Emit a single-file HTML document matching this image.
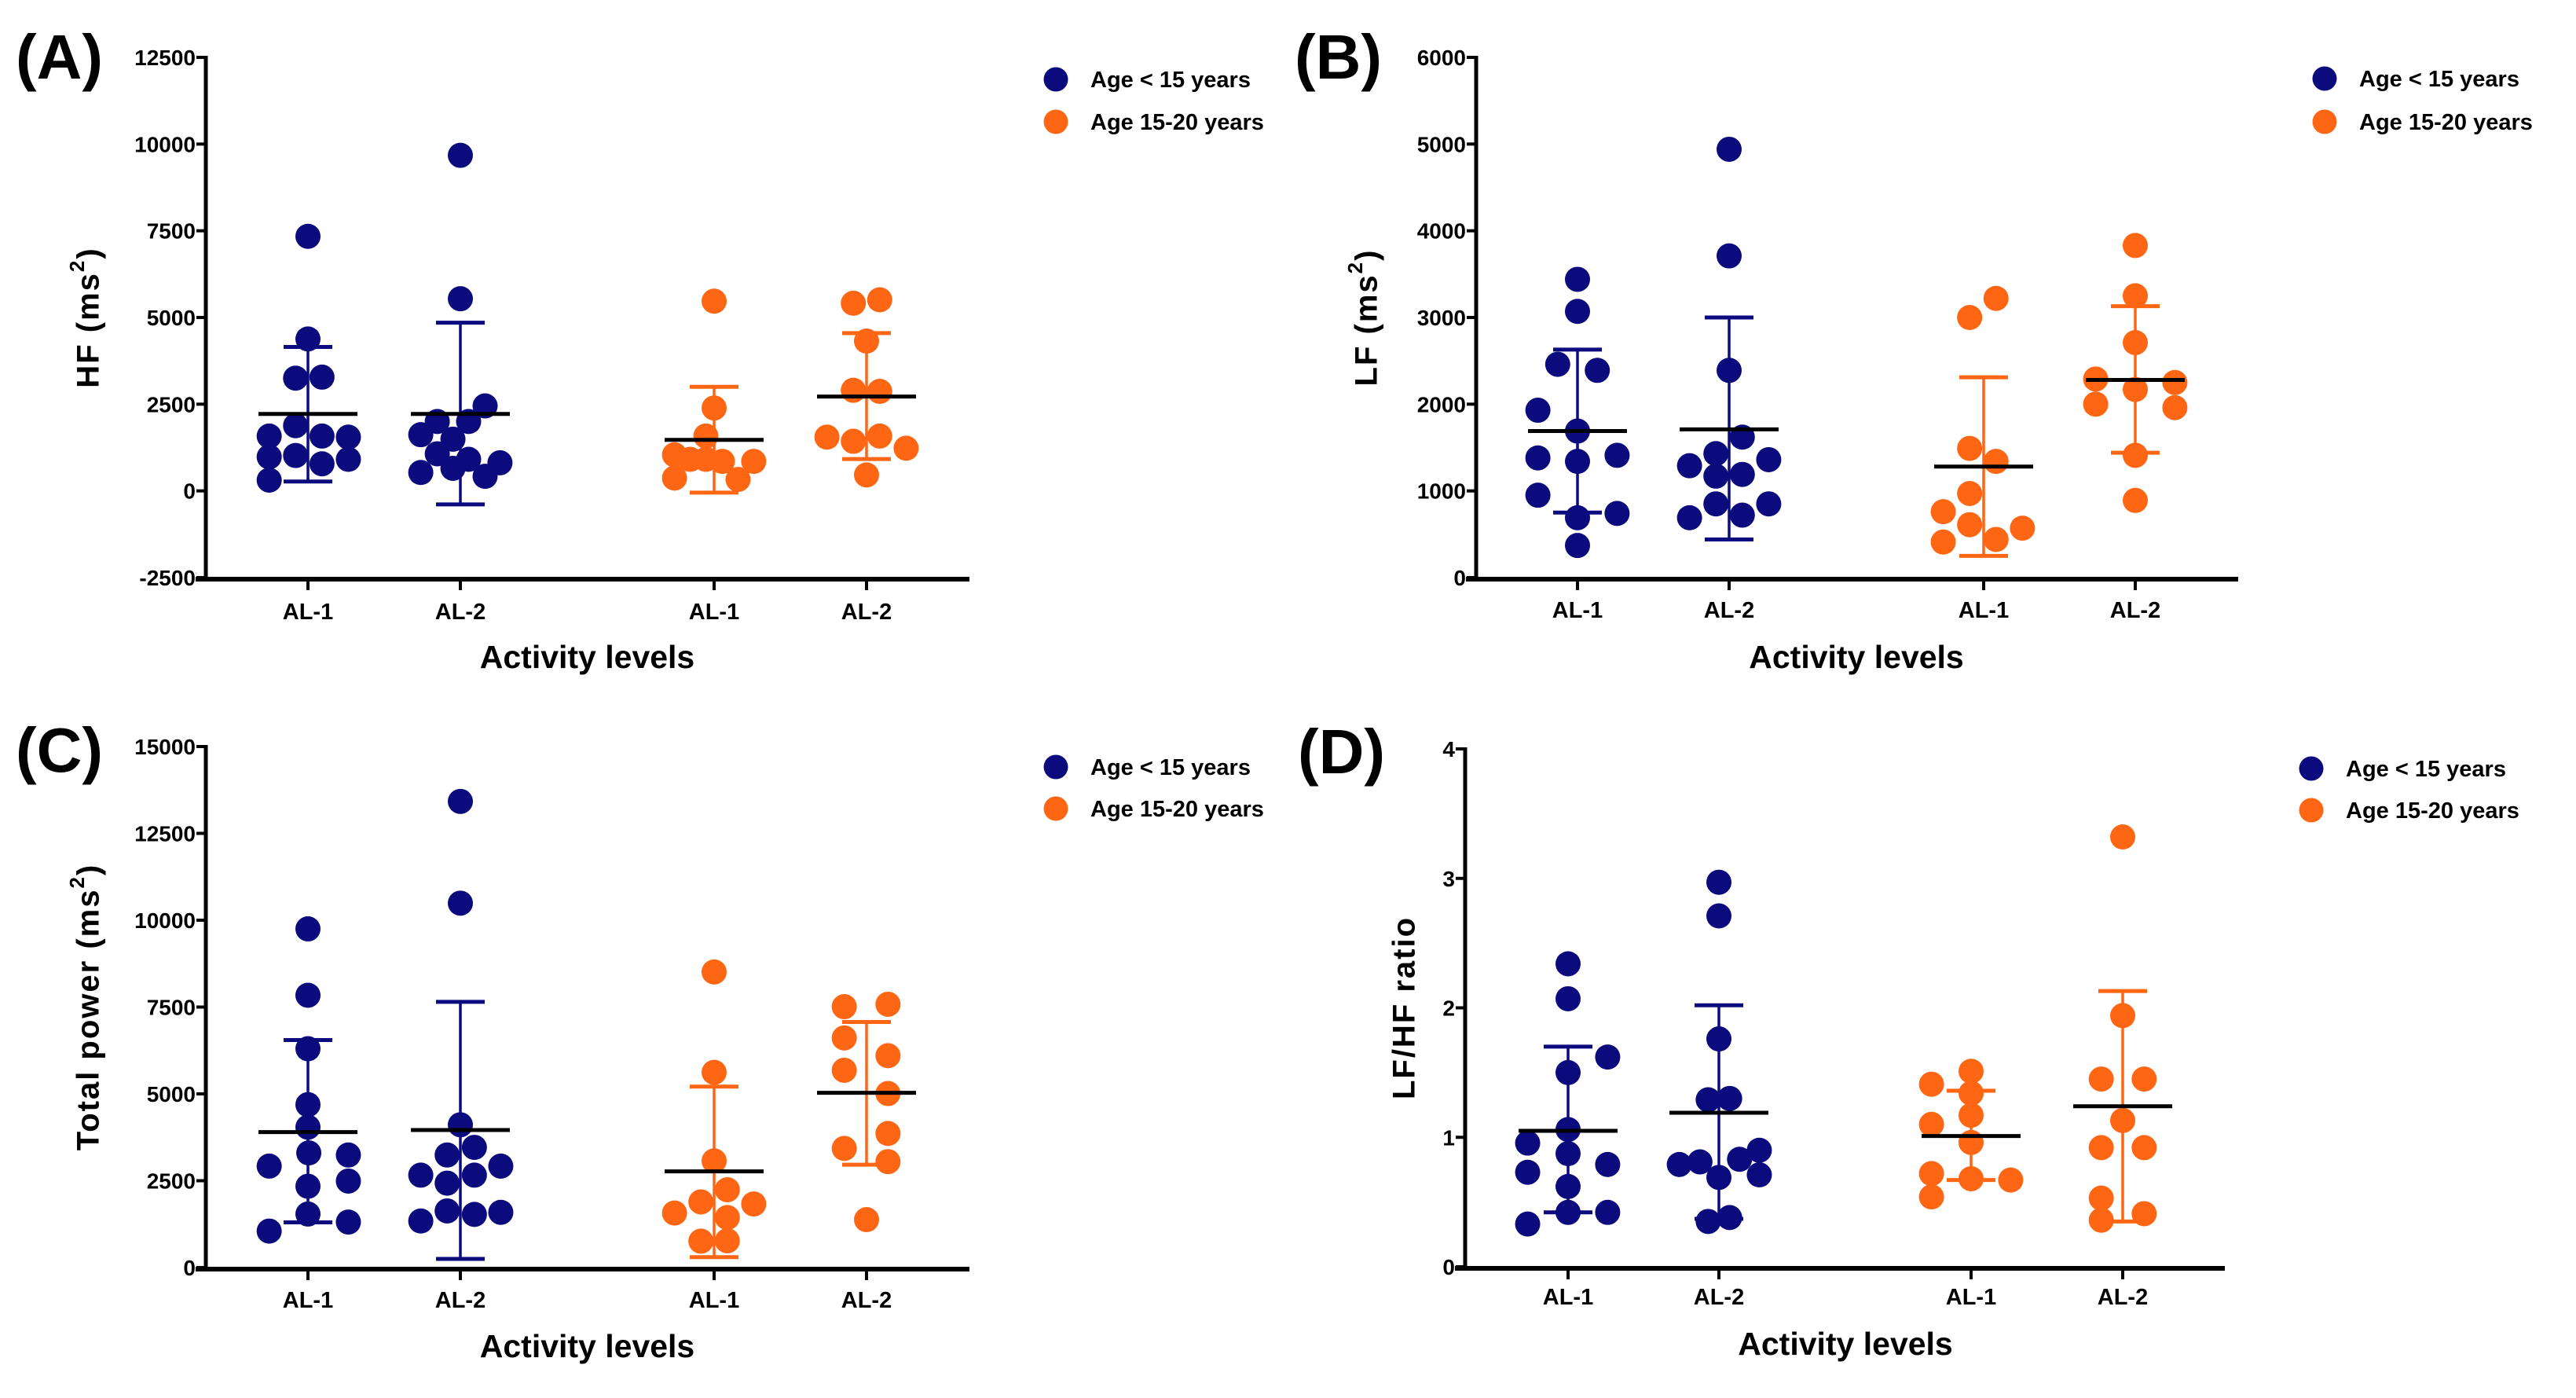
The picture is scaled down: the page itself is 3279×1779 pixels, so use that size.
<!DOCTYPE html>
<html><head><meta charset="utf-8"><title>HRV by activity level</title>
<style>
html,body{margin:0;padding:0;background:#fff;}
svg{display:block;font-family:"Liberation Sans",Arial,sans-serif;}
</style></head>
<body>
<svg id="fig" width="3279" height="1779" viewBox="0 0 3279 1779" xmlns="http://www.w3.org/2000/svg"></svg>
<script>
// ---------- data ----------
const categories = ["AL-1","AL-2","AL-1","AL-2"];
const seriesNames = ["Age < 15 years","Age 15-20 years"];
// Panel A: HF
const hfYoungAL1 = [7340,4380,3250,3280,1880,1580,1580,1550,980,1020,780,910,310];
const hfYoungAL2 = [9675,5540,2450,2000,2000,1620,1490,1070,910,810,650,530,420];
const hfOldAL1 = [5470,2390,1580,1040,910,850,850,370,330,910];
const hfOldAL2 = [5410,5510,4320,2900,2870,1550,1430,1580,1230,460];
const hfMeans = [2220,2220,1470,2720];
const hfSdHigh = [4150,4850,3000,4550];
const hfSdLow = [270,-390,-50,920];
const hfTicks = [-2500,0,2500,5000,7500,10000,12500];
// Panel B: LF
const lfYoungAL1 = [3440,3070,2460,2390,1930,1690,1380,1340,1410,950,690,740,370];
const lfYoungAL2 = [4940,3710,2390,1620,1430,1360,1290,1170,1190,850,850,720,690];
const lfOldAL1 = [3220,3000,1490,1340,970,760,610,570,410,440];
const lfOldAL2 = [3830,3250,2710,2290,2250,2170,2000,1960,1410,890];
const lfMeans = [1690,1710,1280,2280];
const lfSdHigh = [2630,3000,2310,3130];
const lfSdLow = [750,440,250,1440];
const lfTicks = [0,1000,2000,3000,4000,5000,6000];
// Panel C: Total power
const tpYoungAL1 = [9750,7840,6300,4690,4040,2920,3300,3240,2340,2490,1540,1310,1050];
const tpYoungAL2 = [13420,10490,4110,3460,3240,2660,2660,2920,2430,1630,1530,1590,1340];
const tpOldAL1 = [8510,5620,3070,2240,1890,1830,1570,1440,760,770];
const tpOldAL2 = [7510,7580,6610,6100,5680,5010,3860,3430,3050,1380];
const tpMeans = [3900,3960,2770,5030];
const tpSdHigh = [6550,7650,5210,7070];
const tpSdLow = [1300,250,300,2960];
const tpTicks = [0,2500,5000,7500,10000,12500,15000];
// Panel D: LF/HF
const ratioYoungAL1 = [2.34,2.07,1.62,1.50,1.06,0.955,0.874,0.73,0.79,0.62,0.42,0.42,0.33];
const ratioYoungAL2 = [2.97,2.71,1.76,1.29,1.30,0.79,0.81,0.83,0.90,0.69,0.71,0.35,0.38];
const ratioOldAL1 = [1.51,1.41,1.34,1.17,1.10,0.96,0.72,0.68,0.67,0.54];
const ratioOldAL2 = [3.32,1.94,1.45,1.45,1.13,0.92,0.92,0.53,0.36,0.41];
const ratioMeans = [1.05,1.19,1.01,1.24];
const ratioSdHigh = [1.70,2.02,1.36,2.13];
const ratioSdLow = [0.42,0.37,0.67,0.35];
const ratioTicks = [0,1,2,3,4];

// ---------- layout (scatter jitter, px) ----------
const jitA = [[0,0,-15,17,-15,-47,17,49,-47,-15,17,49,-47],[0,0,30,10,-28,-48,-9,-28,10,48,-9,-48,30],[0,0,-10,-48,-29,10,48,-48,29,-10],[-16,16,0,-16,16,-48,-16,16,48,0]];
const jitB = [[0,0,-24,24,-48,0,-48,0,48,-48,0,48,0],[0,0,0,16,-16,48,-48,-16,16,-16,48,16,-48],[15,-17,-17,15,-17,-49,-17,47,-49,15],[0,0,0,-48,48,0,-48,48,0,0]];
const jitC = [[0,0,0,0,0,-47,1,49,0,49,0,49,-47],[0,0,0,17,-16,-48,17,49,-16,-16,17,49,-48],[0,0,0,16,-16,48,-48,16,-16,16],[-27,26,-27,26,-27,26,26,-27,26,0]];
const jitD = [[0,0,48,0,0,-49,0,-49,48,0,0,48,-49],[0,0,0,-13,13,-48,-23,25,49,0,49,-13,13],[0,-48,0,0,-48,0,-48,0,48,-48],[0,0,-26,26,0,-26,26,-26,-26,26]];

const NAVY = "#0b0b7e", ORANGE = "#ff6614";
const NS = "http://www.w3.org/2000/svg";
const svg = document.getElementById("fig");
function mk(tag, attrs, parent){ const e=document.createElementNS(NS,tag); for(const k in attrs) e.setAttribute(k,attrs[k]); (parent||svg).appendChild(e); return e; }

const panels = [
 {id:"a", letter:"(A)", lx:20, ly:100, ax:262, top:73, bot:735, min:-2500, max:12500, ticks:hfTicks, cats:[392,586,909,1103], xEnd:1234, legX:1344, legY:[101,155], ylx:115, ylabel:"HF (ms", sup:true, groups:[hfYoungAL1,hfYoungAL2,hfOldAL1,hfOldAL2], means:hfMeans, hi:hfSdHigh, lo:hfSdLow, jit:jitA, tickY:778, titleY:836},
 {id:"b", letter:"(B)", lx:1648, ly:100, ax:1879, top:73, bot:735, min:0, max:6000, ticks:lfTicks, cats:[2008,2201,2525,2718], xEnd:2849, legX:2959, legY:[100,155], ylx:1742, ylabel:"LF (ms", sup:true, groups:[lfYoungAL1,lfYoungAL2,lfOldAL1,lfOldAL2], means:lfMeans, hi:lfSdHigh, lo:lfSdLow, jit:jitB, tickY:776, titleY:836},
 {id:"c", letter:"(C)", lx:20, ly:982, ax:262, top:950, bot:1613, min:0, max:15000, ticks:tpTicks, cats:[392,586,909,1103], xEnd:1234, legX:1344, legY:[976,1029], ylx:115, ylabel:"Total power (ms", sup:true, groups:[tpYoungAL1,tpYoungAL2,tpOldAL1,tpOldAL2], means:tpMeans, hi:tpSdHigh, lo:tpSdLow, jit:jitC, tickY:1654, titleY:1713},
 {id:"d", letter:"(D)", lx:1652, ly:984, ax:1865, top:953, bot:1612, min:0, max:4, ticks:ratioTicks, cats:[1996,2188,2509,2702], xEnd:2832, legX:2942, legY:[978,1031], ylx:1790, ylabel:"LF/HF ratio", sup:false, groups:[ratioYoungAL1,ratioYoungAL2,ratioOldAL1,ratioOldAL2], means:ratioMeans, hi:ratioSdHigh, lo:ratioSdLow, jit:jitD, tickY:1650, titleY:1710}
];

panels.forEach(p=>{
  const g = mk("g",{});
  
  
  const y = v => p.bot - (v - p.min)/(p.max - p.min)*(p.bot - p.top);
  const yAxisBottom = p.bot;
  const L = mk("text",{x:p.lx,y:p.ly,"font-size":80,"font-weight":"bold",fill:"#000"},g);
  L.textContent = p.letter;
  
  
  const ya = mk("line",{x1:p.ax,y1:p.top-2,x2:p.ax,y2:yAxisBottom+3,stroke:"#000","stroke-width":5},g);
  
  
  p.ticks.forEach(t=>{
    const ty=y(t);
    const tl = mk("line",{x1:p.ax-12,y1:ty,x2:p.ax,y2:ty,stroke:"#000","stroke-width":4},g);
    
    
    const tt = mk("text",{x:p.ax-13,y:ty+10,"font-size":28,"font-weight":"bold","text-anchor":"end",fill:"#000"},g);
    tt.textContent = String(t);
    
    
  });
  const xa = mk("line",{x1:p.ax-13,y1:yAxisBottom+2,x2:p.xEnd,y2:yAxisBottom+2,stroke:"#000","stroke-width":6},g);
  
  
  p.cats.forEach((cx,i)=>{
    const tk = mk("line",{x1:cx,y1:yAxisBottom+2,x2:cx,y2:yAxisBottom+16,stroke:"#000","stroke-width":4},g);
    
    
    const lab = mk("text",{x:cx,y:p.tickY+10,"font-size":29,"font-weight":"bold","text-anchor":"middle",fill:"#000"},g);
    lab.textContent = categories[i];
    
    
  });
  const xt = mk("text",{x:(p.cats[0]+p.cats[3])/2,y:p.titleY+14,"font-size":41,"font-weight":"bold","text-anchor":"middle",fill:"#000"},g);
  xt.textContent = "Activity levels";
  
  
  const cy=(p.top+p.bot)/2;
  const yt = mk("text",{x:p.ylx,y:cy,"font-size":40,"font-weight":"bold","text-anchor":"middle","letter-spacing":"2",transform:`rotate(-90 ${p.ylx} ${cy})`,fill:"#000","dominant-baseline":"middle"},g);
  
  
  if(p.sup){
    yt.appendChild(document.createTextNode(p.ylabel));
    const s=document.createElementNS(NS,"tspan"); s.setAttribute("baseline-shift","super"); s.setAttribute("font-size","26"); s.textContent="2"; yt.appendChild(s);
    const s2=document.createElementNS(NS,"tspan"); s2.textContent=")"; yt.appendChild(s2);
  } else yt.textContent = p.ylabel;
  p.groups.forEach((vals,gi)=>{
    const col = gi<2 ? NAVY : ORANGE;
    const cx = p.cats[gi];
    const eg = mk("g",{},g);
    
    
    vals.forEach((v,k)=>{
      const c = mk("circle",{cx:cx + (p.jit[gi][k]||0)*1.05, cy:y(v), r:16, fill:col},eg);
      
      
    });
    const eb = mk("line",{x1:cx,y1:y(p.hi[gi]),x2:cx,y2:y(p.lo[gi]),stroke:col,"stroke-width":3.5},eg);
    
    
    [p.hi[gi],p.lo[gi]].forEach(v=>{
      const cap = mk("line",{x1:cx-31,y1:y(v),x2:cx+31,y2:y(v),stroke:col,"stroke-width":5},eg);
      
      
    });
    const m = mk("line",{x1:cx-63,y1:y(p.means[gi]),x2:cx+63,y2:y(p.means[gi]),stroke:"#000","stroke-width":5},eg);
    
    
  });
  seriesNames.forEach((n,i)=>{
    const lg = mk("g",{},g);
    
    
    const d = mk("circle",{cx:p.legX,cy:p.legY[i],r:15.5,fill:i?ORANGE:NAVY},lg);
    
    
    const t = mk("text",{x:p.legX+44,y:p.legY[i]+10,"font-size":29,"font-weight":"bold",fill:"#000"},lg);
    t.textContent = n;
    
    
  });
});
</script>
</body></html>
